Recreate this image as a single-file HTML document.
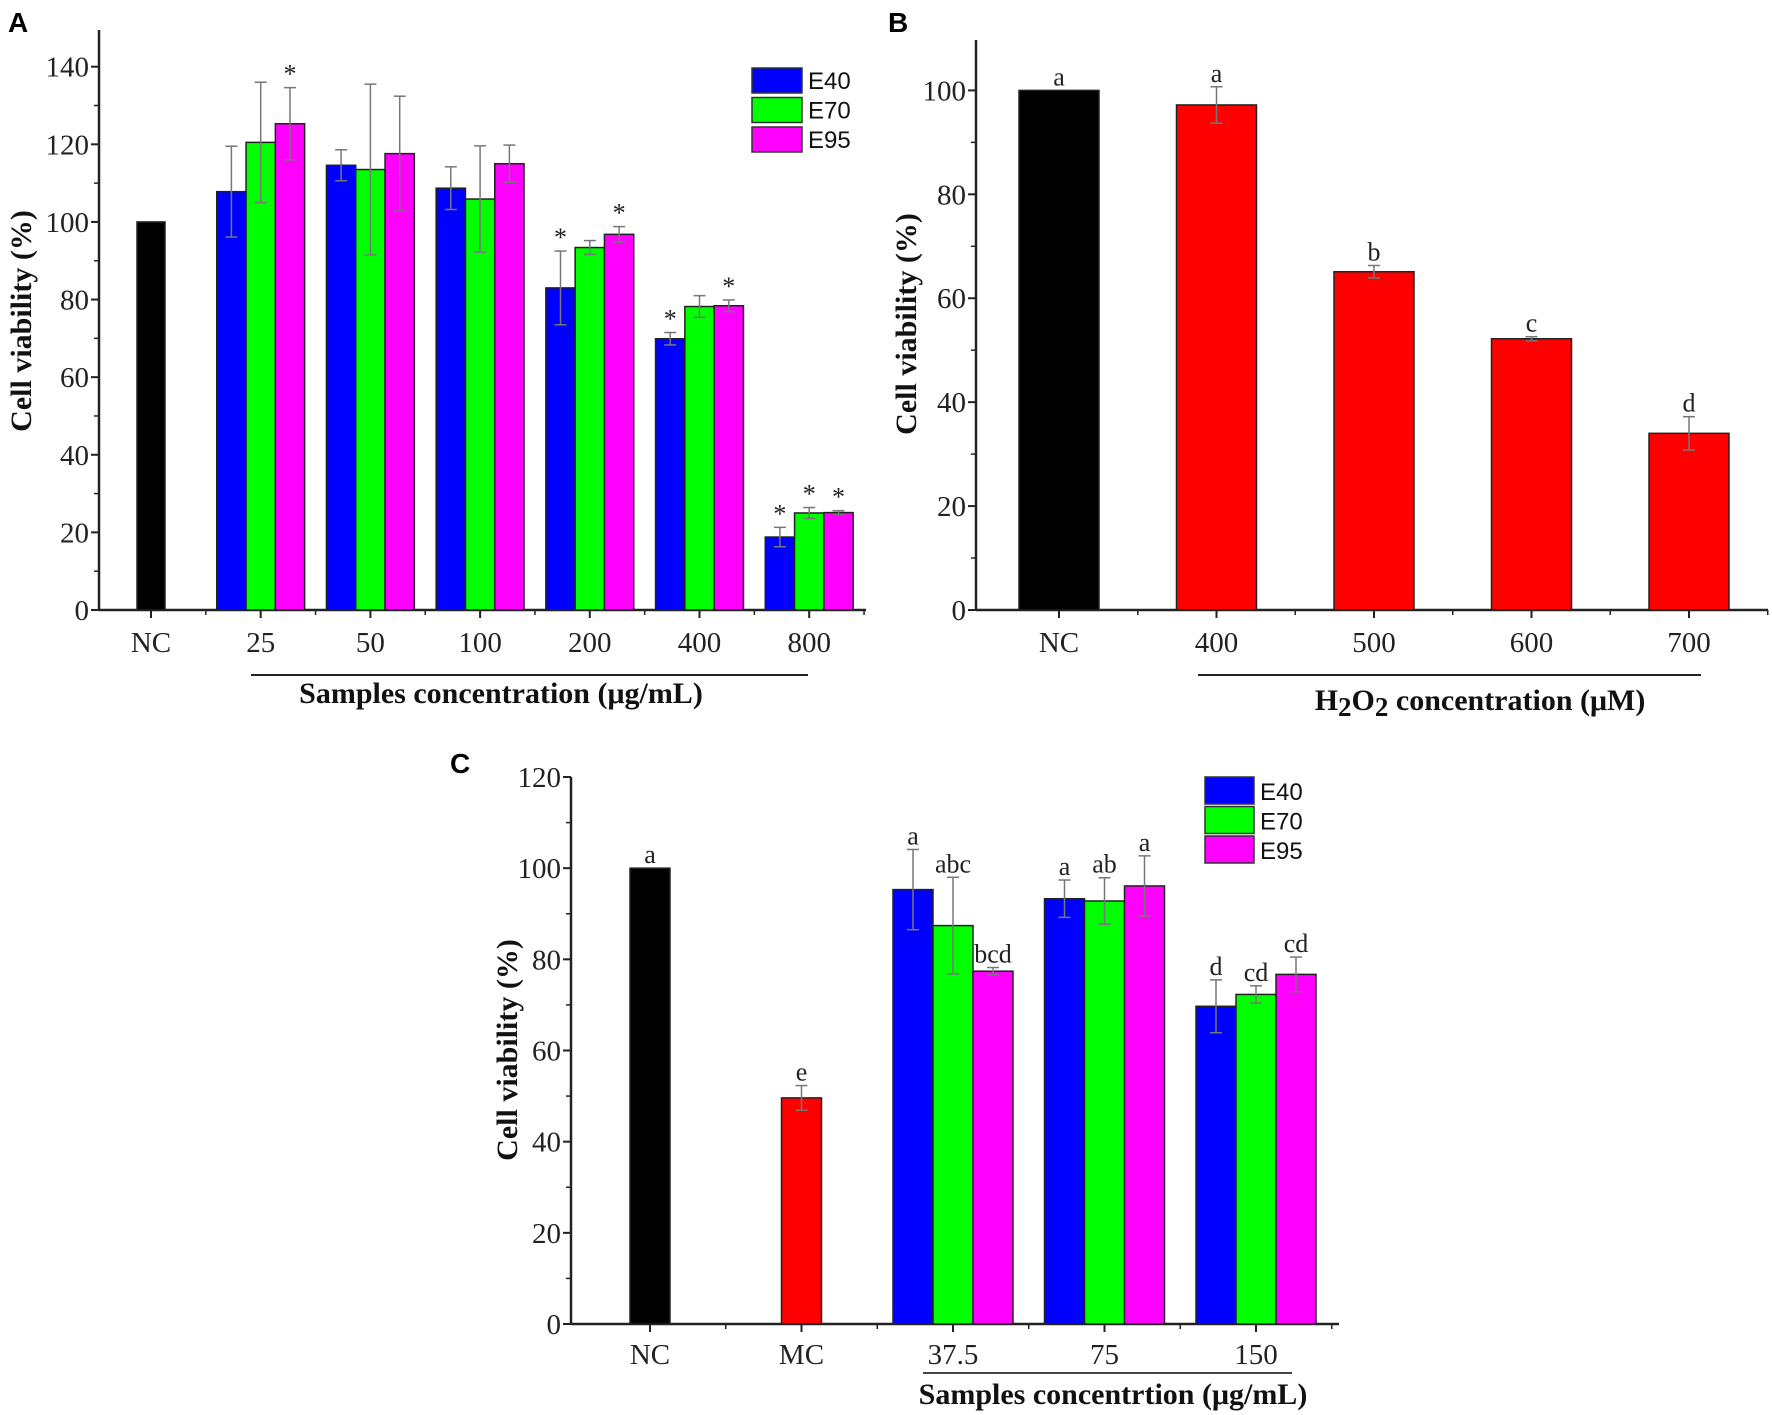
<!DOCTYPE html>
<html><head><meta charset="utf-8"><style>
html,body{margin:0;padding:0;background:#fff;}
svg{display:block;}
.tk{font-family:"Liberation Serif",serif;font-size:29px;fill:#222;}
.ttl{font-family:"Liberation Serif",serif;font-weight:bold;font-size:30px;fill:#111;}
.lg{font-family:"Liberation Sans",sans-serif;font-size:24px;fill:#111;}
.pl{font-family:"Liberation Sans",sans-serif;font-weight:bold;font-size:28px;fill:#000;}
.an{font-family:"Liberation Serif",serif;font-size:26px;fill:#222;}
</style></head><body>
<svg id="fig" width="1772" height="1415" viewBox="0 0 1772 1415">
<text class="pl" x="8" y="32">A</text>
<text class="pl" x="888" y="32">B</text>
<text class="pl" x="450" y="773">C</text>
</svg>
<script>
// Panel A data
const catsA = ["NC","25","50","100","200","400","800"];
const ncA = [100];
const e40A = [107.8,114.6,108.7,83.0,69.9,18.8];
const e70A = [120.5,113.5,105.9,93.4,78.2,25.0];
const e95A = [125.3,117.6,115.0,96.8,78.4,25.1];
const e40AErr = [11.7,4.0,5.5,9.5,1.6,2.5];
const e70AErr = [15.5,22.0,13.7,1.8,2.8,1.4];
const e95AErr = [9.3,14.8,4.8,2.0,1.5,0.5];
const e40AStar = ["","","","*","*","*"];
const e70AStar = ["","","","","","*"];
const e95AStar = ["*","","","*","*","*"];
const ticksA = [0,20,40,60,80,100,120,140];
// Panel B data
const catsB = ["NC","400","500","600","700"];
const valsB = [100,97.2,65.1,52.2,34.0];
const errB = [0,3.5,1.2,0.4,3.2];
const letB = ["a","a","b","c","d"];
const ticksB = [0,20,40,60,80,100];
// Panel C data
const catsC = ["NC","MC","37.5","75","150"];
const ctrlC = [100,49.6];
const ctrlCErr = [0,2.7];
const ctrlCLet = ["a","e"];
const e40C = [95.3,93.3,69.7];
const e70C = [87.4,92.8,72.3];
const e95C = [77.4,96.1,76.7];
const e40CErr = [8.8,4.1,5.8];
const e70CErr = [10.6,5.1,1.9];
const e95CErr = [0.8,6.6,3.8];
const e40CLet = ["a","a","d"];
const e70CLet = ["abc","ab","cd"];
const e95CLet = ["bcd","a","cd"];
const ticksC = [0,20,40,60,80,100,120];
const seriesNames = ["E40","E70","E95"];
const seriesColors = ["#0000ff","#00ff00","#ff00ff"];

const svg = document.getElementById('fig');
const NS = "http://www.w3.org/2000/svg";
function mk(tag, attrs, parent){const e=document.createElementNS(NS,tag);for(const k in attrs)e.setAttribute(k,attrs[k]);(parent||svg).appendChild(e);return e;}

function axes(P, name){
  const g = mk('g',{});
  
  
  mk('line',{x1:P.x0,y1:P.top,x2:P.x0,y2:P.y0,stroke:'#222','stroke-width':2.5},g);
  mk('line',{x1:P.x0,y1:P.y0,x2:P.xr,y2:P.y0,stroke:'#222','stroke-width':2.5},g);
  const step = P.ticks[1]-P.ticks[0];
  P.ticks.forEach((t,i)=>{
    const y=P.y(t);
    mk('line',{x1:P.x0-8,y1:y,x2:P.x0,y2:y,stroke:'#222','stroke-width':2},g);
    const tx=mk('text',{x:P.x0-10,y:y+10,'text-anchor':'end',class:'tk'},g);
    tx.textContent=t;
    
    
    const ym=P.y(t+step/2);
    if(ym>=P.top) mk('line',{x1:P.x0-5,y1:ym,x2:P.x0,y2:ym,stroke:'#222','stroke-width':1.5},g);
  });
  P.cats.forEach((c,i)=>{
    const x=P.cx(i);
    mk('line',{x1:x,y1:P.y0,x2:x,y2:P.y0+8,stroke:'#222','stroke-width':2},g);
    const xb=x+P.sp/2;
    if(xb<P.xr) mk('line',{x1:xb,y1:P.y0,x2:xb,y2:P.y0+5,stroke:'#222','stroke-width':1.5},g);
    const tx=mk('text',{x:x,y:P.y0+P.lab,'text-anchor':'middle',class:'tk'},g);
    tx.textContent=c;
    
    
  });
}
function bar(P,x,w,v,color,name){
  const r=mk('rect',{x:x,y:P.y(v),width:w,height:P.y0-P.y(v),fill:color,stroke:'#222','stroke-width':1.5});
  
  
}
function err(P,x,v,e,cw){
  if(!e) return;
  const g=mk('g',{stroke:'#777','stroke-width':1.5});
  
  
  mk('line',{x1:x,y1:P.y(v+e),x2:x,y2:P.y(v-e)},g);
  mk('line',{x1:x-cw,y1:P.y(v+e),x2:x+cw,y2:P.y(v+e)},g);
  mk('line',{x1:x-cw,y1:P.y(v-e),x2:x+cw,y2:P.y(v-e)},g);
}
function ann(P,x,v,e,s,size){
  if(!s) return;
  const t=mk('text',{x:x,y:P.y(v+e)-5,'text-anchor':'middle',class:'an'});
  if(size) t.setAttribute('font-size',size);
  t.textContent=s;
  
  
}
function legend(x,y,rowH,bw,bh){
  seriesNames.forEach((n,i)=>{
    const r=mk('rect',{x:x,y:y+i*rowH,width:bw,height:bh,fill:seriesColors[i],stroke:'#333','stroke-width':1.5});
    
    
    const t=mk('text',{x:x+bw+6,y:y+i*rowH+bh-4,class:'lg'});
    t.textContent=n;
    
    
  });
}
function ytitle(x,y,size,name){
  const t=mk('text',{x:0,y:0,transform:`translate(${x},${y}) rotate(-90)`,'text-anchor':'middle',class:'ttl','font-size':size});
  t.textContent='Cell viability (%)';
  
  
}

// ---- Panel A
{
  const P={x0:99,y0:610,top:30,xr:866,cats:catsA,ticks:ticksA,sp:109.7,lab:42};
  P.y=v=>P.y0-v*(P.y0-66.7)/140;
  P.cx=i=>151+i*P.sp;
  axes(P,'panel-a');
  const bw=29.3;
  bar(P,P.cx(0)-14,28,ncA[0],'#000','bar-a-nc');
  const ser=[e40A,e70A,e95A], es=[e40AErr,e70AErr,e95AErr], st=[e40AStar,e70AStar,e95AStar];
  for(let k=0;k<3;k++) for(let i=0;i<ser[k].length;i++){
    const x=P.cx(i+1)-1.5*bw+k*bw;
    bar(P,x,bw,ser[k][i],seriesColors[k],'bar-a-'+seriesNames[k].toLowerCase()+'-'+catsA[i+1]);
    err(P,x+bw/2,ser[k][i],es[k][i],6);
    ann(P,x+bw/2,ser[k][i],es[k][i],st[k][i],'24');
  }
  legend(752,68,29.5,50,25);
  ytitle(31,321,'33','panel-a');
  const l=mk('line',{x1:251,y1:675,x2:808,y2:675,stroke:'#222','stroke-width':2});
  
  const t=mk('text',{x:501,y:703,'text-anchor':'middle',class:'ttl'});
  t.textContent='Samples concentration (μg/mL)';
  
}
// ---- Panel B
{
  const P={x0:976,y0:610,top:40,xr:1768,cats:catsB,ticks:ticksB,sp:157.5,lab:42};
  P.y=v=>P.y0-v*(P.y0-90.4)/100;
  P.cx=i=>1059+i*P.sp;
  axes(P,'panel-b');
  valsB.forEach((v,i)=>{
    bar(P,P.cx(i)-40,80,v,i===0?'#000':'#ff0000','bar-b-'+catsB[i]);
    err(P,P.cx(i),v,errB[i],6);
    ann(P,P.cx(i),v,errB[i],letB[i],'30');
  });
  ytitle(916,324,'35','panel-b');
  const l=mk('line',{x1:1198,y1:675,x2:1701,y2:675,stroke:'#222','stroke-width':2});
  
  const t=mk('text',{x:1480,y:710,'text-anchor':'middle',class:'ttl','font-size':'36'});
  t.innerHTML='H<tspan font-size="27" dy="6">2</tspan><tspan dy="-6">O</tspan><tspan font-size="27" dy="6">2</tspan><tspan dy="-6"> concentration (μM)</tspan>';
  
}
// ---- Panel C
{
  const P={x0:571,y0:1324,top:777,xr:1339,cats:catsC,ticks:ticksC,sp:151.5,lab:40};
  P.y=v=>P.y0-v*(P.y0-777)/120;
  P.cx=i=>650+i*P.sp;
  axes(P,'panel-c');
  ctrlC.forEach((v,i)=>{
    bar(P,P.cx(i)-20,40,v,i===0?'#000':'#ff0000','bar-c-'+catsC[i]);
    err(P,P.cx(i),v,ctrlCErr[i],6);
    ann(P,P.cx(i),v,ctrlCErr[i],ctrlCLet[i],'22');
  });
  const bw=40;
  const ser=[e40C,e70C,e95C], es=[e40CErr,e70CErr,e95CErr], lt=[e40CLet,e70CLet,e95CLet];
  for(let k=0;k<3;k++) for(let i=0;i<ser[k].length;i++){
    const x=P.cx(i+2)-1.5*bw+k*bw;
    bar(P,x,bw,ser[k][i],seriesColors[k],'bar-c-'+seriesNames[k].toLowerCase()+'-'+catsC[i+2]);
    err(P,x+bw/2,ser[k][i],es[k][i],6);
    ann(P,x+bw/2,ser[k][i],es[k][i],lt[k][i],'22');
  }
  legend(1205,777,29.5,49,27);
  ytitle(517,1050,'30','panel-c');
  const l=mk('line',{x1:923,y1:1373,x2:1292,y2:1373,stroke:'#444','stroke-width':2});
  
  const t=mk('text',{x:1113,y:1404,'text-anchor':'middle',class:'ttl','font-size':'27'});
  t.textContent='Samples concentrtion (μg/mL)';
  
}
</script>
</body></html>
